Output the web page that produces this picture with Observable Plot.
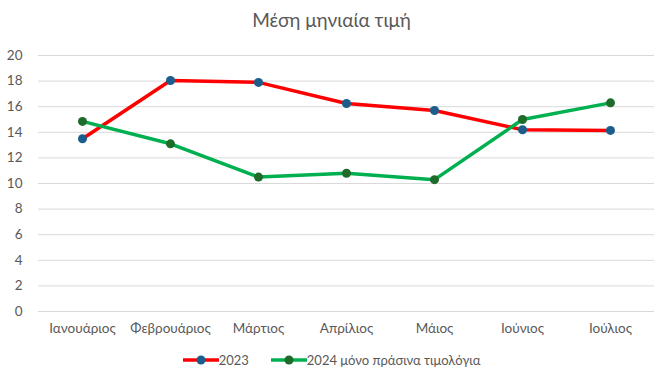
<!DOCTYPE html>
<html><head><meta charset="utf-8">
<script src="https://cdn.jsdelivr.net/npm/d3@7"></script>
<script src="https://cdn.jsdelivr.net/npm/@observablehq/plot@0.6"></script>
<style>
body{margin:0;background:#fff;font-family:Lato,"Open Sans",sans-serif;}
#wrap{width:663px;height:377px;position:relative;}
#title{height:40px;line-height:40px;text-align:center;font-size:19px;color:#595959;}
#legend{position:absolute;top:352px;left:0;width:663px;display:flex;justify-content:center;gap:22px;font-size:13px;color:#595959;}
.item{display:flex;align-items:center;}
</style></head>
<body><div id="wrap"><div id="title">Μέση μηνιαία τιμή</div><div id="chart"></div><div id="legend"></div></div>
<script>
const months = ["Ιανουάριος","Φεβρουάριος","Μάρτιος","Απρίλιος","Μάιος","Ιούνιος","Ιούλιος"];
const values2023 = [13.5, 18.05, 17.9, 16.25, 15.7, 14.2, 14.15];
const values2024 = [14.85, 13.1, 10.5, 10.8, 10.3, 15.0, 16.3];
const seriesNames = ["2023", "2024 μόνο πράσινα τιμολόγια"];
const yTicks = [0,2,4,6,8,10,12,14,16,18,20];
const lineColors = ["#FF0000", "#00B050"];
const dotColors = ["#1B5E8C", "#1E6B2A"];

const data = [];
months.forEach((m,i)=>{
  data.push({month:m, value:values2023[i], series:seriesNames[0]});
  data.push({month:m, value:values2024[i], series:seriesNames[1]});
});

const chart = Plot.plot({
  width:663, height:300,
  marginLeft:38, marginRight:9, marginTop:15, marginBottom:29,
  style:{fontFamily:"Lato, 'Open Sans', sans-serif", fontSize:"13.5px", color:"#595959", background:"transparent"},
  x:{type:"point", domain:months, padding:0.5, label:null},
  y:{domain:[0,20], ticks:yTicks, label:null},
  color:{domain:seriesNames, range:lineColors},
  marks:[
    Plot.gridY(yTicks,{stroke:"#D9D9D9", strokeOpacity:1, strokeWidth:1}),
    Plot.axisY({ticks:yTicks, tickSize:0, tickPadding:16, label:null}),
    Plot.axisX({tickSize:0, tickPadding:12, label:null}),
    Plot.line(data,{x:"month", y:"value", z:"series", stroke:"series", strokeWidth:3.5}),
    Plot.dot(data,{x:"month", y:"value", fill:d=>d.series===seriesNames[0]?dotColors[0]:dotColors[1], r:4.5, stroke:"none"})
  ]
});
document.getElementById("chart").appendChild(chart);

const legend = document.getElementById("legend");
seriesNames.forEach((s,i)=>{
  const it = document.createElement("div"); it.className="item";
  it.innerHTML = `<svg width="36" height="14"><line x1="0" y1="7" x2="36" y2="7" stroke="${lineColors[i]}" stroke-width="3.5"/><circle cx="18" cy="7" r="4.5" fill="${dotColors[i]}"/></svg>`;
  const t = document.createElement("span"); t.textContent = s;
  it.appendChild(t); legend.appendChild(it);
});
</script></body></html>
